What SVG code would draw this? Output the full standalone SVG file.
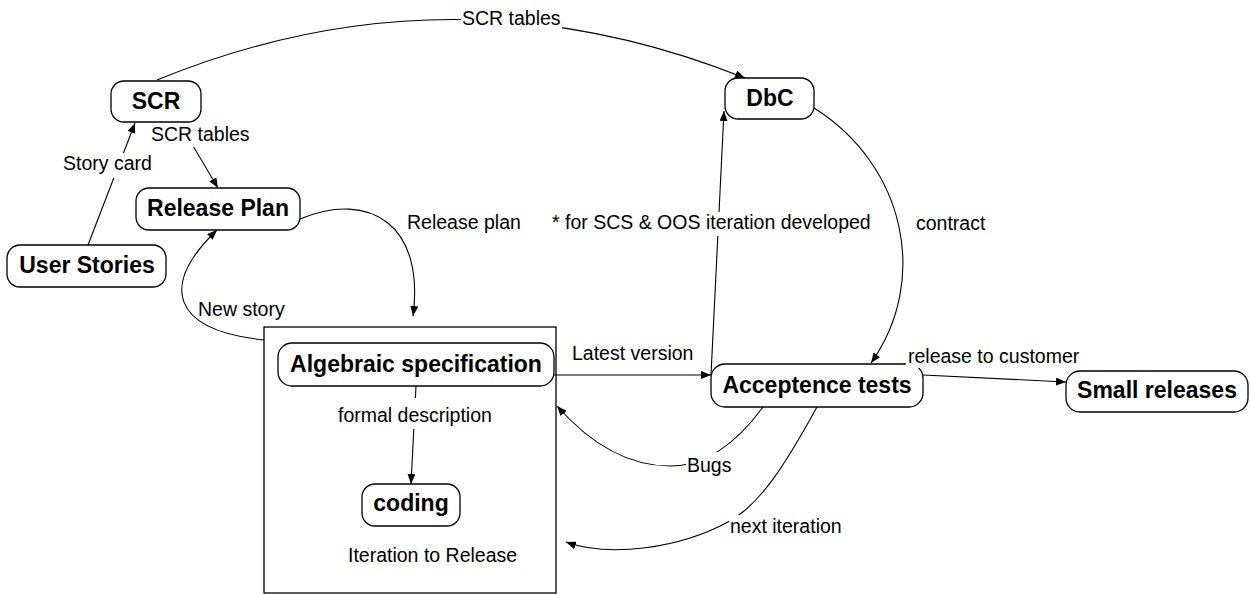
<svg xmlns="http://www.w3.org/2000/svg" width="1250" height="594" viewBox="0 0 1250 594">
<style>
.node rect{fill:#fff;stroke:#000;stroke-width:1.3}
.nt{font-family:"Liberation Sans",Arial,sans-serif;font-weight:bold;font-size:23px;text-anchor:middle;fill:#000}
.lt{font-family:"Liberation Sans",Arial,sans-serif;font-size:19.5px;fill:#000}
.bg{fill:#fff;stroke:none}
.c{fill:none;stroke:#000;stroke-width:1.1}
.a{marker-end:url(#arr)}
</style>
<defs>
<marker id="arr" markerWidth="11" markerHeight="8" refX="10" refY="4" orient="auto" markerUnits="userSpaceOnUse">
<path d="M0,0 L10,4 L0,8 z" fill="#000"/>
</marker>
</defs>
<rect width="1250" height="594" fill="#fff"/>
<g id="container">
<rect x="264" y="327" width="292" height="266" fill="none" stroke="#000" stroke-width="1.3"/>
</g>
<g id="connectors">
<path class="c a" d="M157,80 Q450,-40 745,78"/>
<path class="c a" d="M88,245 L135,123"/>
<path class="c a" d="M180,124 L218,188"/>
<path class="c a" d="M300,219 C370,190 425,225 413,316"/>
<path class="c a" d="M264,340 C170,330 160,285 217,230"/>
<path class="c a" d="M416,386 L411,484"/>
<path class="c a" d="M554,375 L711,375"/>
<path class="c a" d="M711,375 L724,111"/>
<path class="c a" d="M814,108 C905,165 930,280 871,363"/>
<path class="c a" d="M923,375 L1066,382"/>
<path class="c a" d="M763,407 Q720,466 670,466 Q610,466 557,406"/>
<path class="c a" d="M817,407 C785,465 760,505 728,522 C680,548 610,558 566,542"/>
</g>
<g id="n-scr" class="node"><rect x="111" y="81" width="90" height="41" rx="13"/><text class="nt" x="156" y="109">SCR</text></g>
<g id="n-release-plan" class="node"><rect x="136" y="188" width="164" height="42" rx="13"/><text class="nt" x="218" y="216">Release Plan</text></g>
<g id="n-user-stories" class="node"><rect x="7" y="245" width="159" height="42" rx="13"/><text class="nt" x="87" y="273">User Stories</text></g>
<g id="n-dbc" class="node"><rect x="725" y="78" width="89" height="41" rx="13"/><text class="nt" x="770" y="106">DbC</text></g>
<g id="n-algebraic" class="node"><rect x="278" y="343" width="276" height="43" rx="14"/><text class="nt" x="416" y="372">Algebraic specification</text></g>
<g id="n-coding" class="node"><rect x="362" y="484" width="98" height="42" rx="13"/><text class="nt" x="411" y="511">coding</text></g>
<g id="n-acceptence" class="node"><rect x="711" y="364" width="212" height="43" rx="14"/><text class="nt" x="817" y="393">Acceptence tests</text></g>
<g id="n-small" class="node"><rect x="1066" y="371" width="182" height="41" rx="14"/><text class="nt" x="1157" y="398">Small releases</text></g>
<g id="labels">
<rect class="bg" x="461" y="8" width="101" height="23"/><text class="lt" x="462" y="25">SCR tables</text>
<rect class="bg" x="150" y="124" width="101" height="23"/><text class="lt" x="151" y="141">SCR tables</text>
<rect class="bg" x="62" y="153" width="91" height="25"/><text class="lt" x="63" y="170">Story card</text>
<text class="lt" x="407" y="229">Release plan</text>
<rect class="bg" x="550" y="212" width="329" height="24"/><text class="lt" x="552" y="229">* for SCS &amp; OOS iteration developed</text>
<text class="lt" x="916" y="230">contract</text>
<text class="lt" x="198" y="316">New story</text>
<text class="lt" x="572" y="360">Latest version</text>
<rect class="bg" x="906" y="346" width="176" height="22"/><text class="lt" x="908" y="363">release to customer</text>
<rect class="bg" x="337" y="398" width="158" height="31"/><text class="lt" x="338" y="422">formal description</text>
<rect class="bg" x="686" y="452" width="48" height="25"/><text class="lt" x="687" y="472">Bugs</text>
<rect class="bg" x="729" y="515" width="115" height="24"/><text class="lt" x="730" y="533">next iteration</text>
<text class="lt" x="348" y="562">Iteration to Release</text>
</g>
</svg>
